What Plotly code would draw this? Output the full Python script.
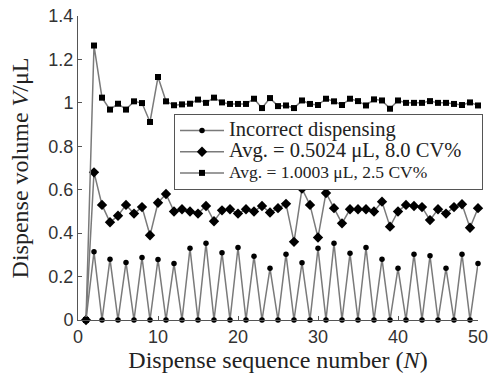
import plotly.graph_objects as go

seq = list(range(1, 51))

incorrect = [0, 0.314, 0, 0.28, 0, 0.265, 0, 0.288, 0, 0.279,
             0, 0.26, 0, 0.33, 0, 0.353, 0, 0.31, 0, 0.334,
             0, 0.294, 0, 0.238, 0, 0.303, 0, 0.264, 0, 0.33,
             0, 0.353, 0, 0.307, 0, 0.334, 0, 0.28, 0, 0.238,
             0, 0.303, 0, 0.296, 0, 0.238, 0, 0.303, 0, 0.26]

half_ul = [0, 0.68, 0.53, 0.45, 0.48, 0.53, 0.49, 0.52, 0.39, 0.54,
           0.58, 0.50, 0.51, 0.50, 0.49, 0.525, 0.455, 0.505, 0.51, 0.49,
           0.51, 0.50, 0.525, 0.495, 0.515, 0.535, 0.36, 0.605, 0.53, 0.38,
           0.585, 0.515, 0.445, 0.51, 0.51, 0.51, 0.50, 0.545, 0.43, 0.50,
           0.53, 0.525, 0.52, 0.46, 0.51, 0.49, 0.52, 0.533, 0.425, 0.515]

one_ul = [0, 1.264, 1.024, 0.969, 0.996, 0.969, 1.007, 0.999, 0.912, 1.119,
          1.007, 0.989, 0.993, 0.996, 1.015, 1.0, 1.024, 1.002, 0.995, 0.995,
          0.995, 1.019, 0.976, 1.022, 0.985, 0.988, 0.976, 1.011, 0.995, 0.99,
          1.019, 1.007, 0.99, 1.019, 1.008, 0.988, 1.016, 1.011, 0.973, 1.011,
          1.0, 1.0, 1.0, 1.008, 1.0, 1.0, 0.995, 0.99, 1.002, 0.988]

names = ["<span style='font-size:20.5px'>Incorrect dispensing</span>",
         "<span style='font-size:20.5px'>Avg. = 0.5024 μL, 8.0 CV%\u00a0\u00a0\u00a0</span>",
         "<span style='font-size:17.5px'>Avg. = 1.0003 μL, 2.5 CV%</span>"]

x_ticks = [0, 10, 20, 30, 40, 50]
y_ticks = [0, 0.2, 0.4, 0.6, 0.8, 1.0, 1.2, 1.4]

line_col = "#7a7a7a"
fig = go.Figure()
fig.add_trace(go.Scatter(x=seq, y=incorrect, name=names[0], mode="lines+markers",
                         line=dict(color=line_col, width=1.5),
                         marker=dict(symbol="circle", size=5.5, color="black"),
                         cliponaxis=False))
fig.add_trace(go.Scatter(x=seq, y=half_ul, name=names[1], mode="lines+markers",
                         line=dict(color=line_col, width=1.5),
                         marker=dict(symbol="diamond", size=8, color="black"),
                         cliponaxis=False))
fig.add_trace(go.Scatter(x=seq, y=one_ul, name=names[2], mode="lines+markers",
                         line=dict(color=line_col, width=1.5),
                         marker=dict(symbol="square", size=6, color="black"),
                         cliponaxis=False))

fig.update_layout(
    width=494, height=373,
    margin=dict(l=78, r=11, t=16, b=53),
    paper_bgcolor="white", plot_bgcolor="white",
    showlegend=True,
    legend=dict(x=0.24, y=0.678, xanchor="left", yanchor="top",
                bgcolor="white", bordercolor="#555", borderwidth=1,
                font=dict(family="Liberation Serif", size=14, color="#222"),
                tracegroupgap=0, itemwidth=44),
    font=dict(family="Liberation Sans", size=18, color="#333"),
)
fig.update_xaxes(range=[0, 50], tickvals=x_ticks, ticks="inside", ticklen=4,
                 showline=True, linecolor="#555", linewidth=1, showgrid=False,
                 zeroline=False, tickcolor="#555", ticklabeloverflow="allow",
                 automargin=False,
                 tickfont=dict(family="Liberation Sans", size=18, color="#333"),
                 title=dict(text="Dispense sequence number (<i>N</i>)",
                            font=dict(family="Liberation Serif", size=24, color="#222"),
                            standoff=9))
fig.update_yaxes(range=[0, 1.4], tickvals=y_ticks, ticks="inside", ticklen=4,
                 showline=True, linecolor="#555", linewidth=1, showgrid=False,
                 zeroline=False, tickcolor="#555", automargin=False,
                 tickfont=dict(family="Liberation Sans", size=18, color="#333"),
                 title=dict(text="Dispense volume <i>V</i>/μL",
                            font=dict(family="Liberation Serif", size=24, color="#222"),
                            standoff=12))

fig.write_html("out.html")
